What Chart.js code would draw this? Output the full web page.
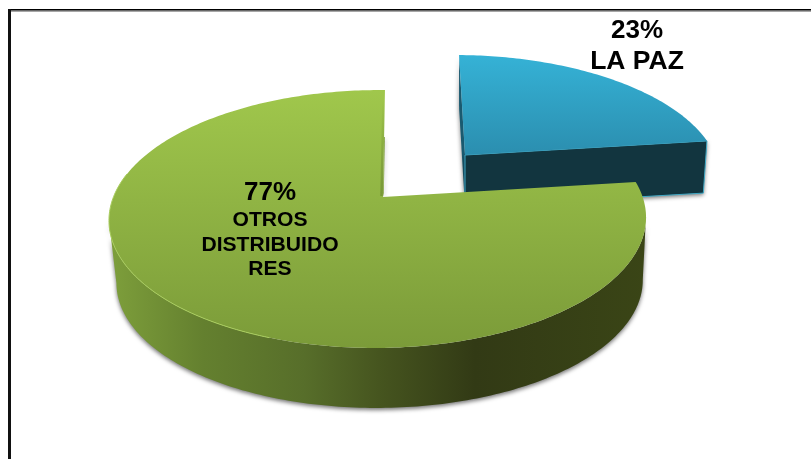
<!DOCTYPE html>
<html><head><meta charset="utf-8">
<style>html,body{margin:0;padding:0;background:#fff}canvas{display:block}</style>
<script src="https://cdn.jsdelivr.net/npm/chart.js@4"></script>
</head><body><canvas id="c" width="811" height="459"></canvas>
<script>
const categories = ["LA PAZ", "OTROS DISTRIBUIDORES"];
const values = [23, 77];
const percentLabels = ["23%", "77%"];
const labelLines = [["LA PAZ"], ["OTROS", "DISTRIBUIDO", "RES"]];

const K = 0.1705, M = 0.0187;
const looks = [
  { x0:465, y0:155, A:254.5, B:117, S:-7, depth:52, shrink:0.985, shiftX:0,
    top:[[55,'#35b2d6'],[155,'#2b8eaf']], wall:[[0,'#12353f'],[1,'#12353f']], rim:'#3fa9c6',
    label:{x:637,pctY:38,lineY:69,pct:26,txt:26.5,gap:0} },
  { x0:383, y0:197, A:264.5, B:125.2, S:2.3, depth:63, shrink:0.98, shiftX:2,
    top:[[90,'#a0c74c'],[348,'#7b9b39']],
    wall:[[0,'#7d9e3b'],[0.17,'#64802f'],[0.36,'#576e2a'],[0.5,'#46551f'],[0.68,'#323a15'],[1,'#3a4516']], rim:'#a9cd5e',
    label:{x:270,pctY:200,lineY:226,pct:26,txt:21.1,gap:24.5} }
];
function proj(l, t, bottom){
  const u=Math.sin(t), v=Math.cos(t), w=1+K*v+M*u;
  const f=bottom?l.shrink:1;
  return [l.x0+(bottom?l.shiftX:0)+f*(l.A*u+l.S*v)/w, l.y0+(bottom?l.depth:0)-f*l.B*v/w];
}
function arcPts(l,a,b,bottom){
  const p=[],n=Math.max(24,Math.round((b-a)*60));
  for(let i=0;i<=n;i++)p.push(proj(l,a+(b-a)*i/n,bottom));
  return p;
}
// the near-side part of an arc, between its rightmost and leftmost points
function nearPts(pts){
  let r=0,m=0;
  pts.forEach((q,i)=>{if(q[0]>pts[r][0])r=i;if(q[0]<pts[m][0])m=i;});
  return pts.slice(r,m+1);
}
function poly(ctx,pts){ctx.beginPath();pts.forEach((q,i)=>i?ctx.lineTo(q[0],q[1]):ctx.moveTo(q[0],q[1]));ctx.closePath();}
function shadow(ctx,on){ctx.shadowColor=on?'rgba(0,0,0,0.55)':'transparent';ctx.shadowBlur=on?4:0;ctx.shadowOffsetX=0;ctx.shadowOffsetY=on?2:0;}

const pie3d = {
  id:'pie3d',
  beforeDraw(chart){
    const ctx=chart.ctx;
    ctx.save();
    ctx.fillStyle='#fff';ctx.fillRect(0,0,811,459);
    ctx.fillStyle='#000';ctx.fillRect(8,9,803,1.6);
    ctx.fillStyle='#6e6e6e';ctx.fillRect(8,10.6,803,1);
    ctx.fillStyle='#111';ctx.fillRect(8,9,3,450);
    ctx.restore();
  },
  beforeDatasetsDraw(chart){
    const ctx=chart.ctx, arcs=chart.getDatasetMeta(0).data;
    arcs.forEach((arc,i)=>{
      const {startAngle,endAngle}=arc.getProps(['startAngle','endAngle'],true);
      const a=startAngle+Math.PI/2,b=endAngle+Math.PI/2,l=looks[i];
      const apex=[l.x0,l.y0], apexB=[l.x0,l.y0+l.depth];
      ctx.save();
      if(i===0){
        // rear radial sliver, then the front radial wall
        shadow(ctx,true);
        ctx.fillStyle='#1a5a70';
        poly(ctx,[proj(l,a,false),apex,apexB,proj(l,a,true)]);ctx.fill();
        const e=proj(l,b,false),eb=proj(l,b,true);
        ctx.fillStyle=l.wall[0][1];
        poly(ctx,[apex,e,eb,apexB]);ctx.fill();
        shadow(ctx,false);
        ctx.strokeStyle=l.rim;ctx.lineWidth=1;ctx.stroke();
      } else {
        // soft shadow beside the notch edge
        shadow(ctx,true);
        ctx.fillStyle='#7c9c3a';
        const t0=proj(l,b,false);
        const f=0.44;
        poly(ctx,[[t0[0]+(apex[0]-t0[0])*f,t0[1]+(apex[1]-t0[1])*f],[t0[0]+(apex[0]-t0[0])*f+0.8,t0[1]+(apex[1]-t0[1])*f],[apex[0]+0.8,apex[1]-4],apex]);ctx.fill();
        // curved outer wall
        const g=ctx.createLinearGradient(112,0,646,0);
        l.wall.forEach(s=>g.addColorStop(s[0],s[1]));
        ctx.fillStyle=g;
        poly(ctx,nearPts(arcPts(l,a,b,false)).concat(nearPts(arcPts(l,a,b,true)).reverse()));
        ctx.fill();
      }
      shadow(ctx,false);
      // top face
      const t=ctx.createLinearGradient(0,l.top[0][0],0,l.top[1][0]);
      t.addColorStop(0,l.top[0][1]);t.addColorStop(1,l.top[1][1]);
      ctx.fillStyle=t;
      poly(ctx,[apex].concat(arcPts(l,a,b,false)));ctx.fill();
      if(i===1){
        // rim highlight on the near-left edge
        ctx.beginPath();
        arcPts(l,3.5,4.9,false).forEach((q,n)=>n?ctx.lineTo(q[0],q[1]):ctx.moveTo(q[0],q[1]));
        ctx.strokeStyle=l.rim;ctx.lineWidth=1;ctx.stroke();
        // darker strip along the notch edge
        const s=ctx.createLinearGradient(0,100,0,197);
        s.addColorStop(0,'rgba(110,140,50,0)');s.addColorStop(1,'rgba(110,140,50,0.75)');
        ctx.strokeStyle=s;ctx.lineWidth=2.5;
        const top=proj(l,b,false);
        ctx.beginPath();ctx.moveTo(top[0]-1.5,top[1]+10);ctx.lineTo(l.x0-1.5,l.y0-1);ctx.stroke();
      }
      ctx.restore();
    });
    return false;
  },
  afterDraw(chart){
    const ctx=chart.ctx;
    ctx.save();
    ctx.fillStyle='#000';ctx.textAlign='center';ctx.textBaseline='alphabetic';
    looks.forEach((l,i)=>{
      const L=l.label;
      ctx.font='bold '+L.pct+'px "Liberation Sans", Arial, sans-serif';
      ctx.fillText(percentLabels[i],L.x,L.pctY);
      ctx.font='bold '+L.txt+'px "Liberation Sans", Arial, sans-serif';
      labelLines[i].forEach((s,n)=>ctx.fillText(s,L.x,L.lineY+n*L.gap));
    });
    ctx.restore();
  }
};

new Chart(document.getElementById('c'),{
  type:'pie',
  data:{labels:categories,datasets:[{data:values,backgroundColor:['#2b8eaf','#8eb041'],borderWidth:0}]},
  options:{responsive:false,animation:false,
    plugins:{legend:{display:false},tooltip:{enabled:false}},
    layout:{padding:0}},
  plugins:[pie3d]
});
</script></body></html>
